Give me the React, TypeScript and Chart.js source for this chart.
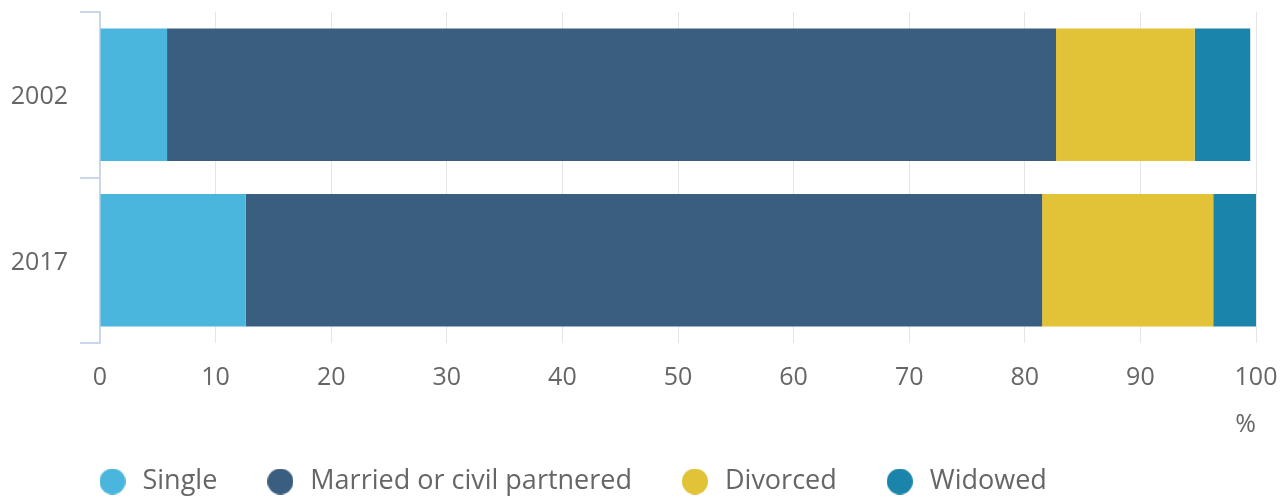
import React, { useEffect, useRef } from "react";
import { Chart, registerables } from "chart.js";

Chart.register(...registerables);

const years = ["2002", "2017"];
const seriesNames = ["Single", "Married or civil partnered", "Divorced", "Widowed"];
const single = [5.8, 12.6];
const married = [76.9, 68.9];
const divorced = [12.0, 14.8];
const widowed = [4.8, 3.7];
const seriesColors = ["#4ab5dd", "#3a5e80", "#e2c237", "#1b84aa"];
const xTicks = { min: 0, max: 100, step: 10 };
const xUnit = "%";

const TEXT = "#666666";
const FONT = "'Open Sans', sans-serif";

function makeDot(color: string): HTMLCanvasElement {
  const c = document.createElement("canvas");
  c.width = 26;
  c.height = 26;
  const g = c.getContext("2d")!;
  g.fillStyle = color;
  g.beginPath();
  g.arc(13, 13, 13, 0, Math.PI * 2);
  g.fill();
  return c;
}

const legendShift = {
  id: "legendShift",
  afterLayout(chart: any) {
    if (chart.legend) {
      chart.legend.left = 49.5;
    }
  },
};

export default function App() {
  const ref = useRef<HTMLCanvasElement | null>(null);

  useEffect(() => {
    if (!ref.current) return;
    const values = [single, married, divorced, widowed];
    const dots = seriesColors.map(makeDot);
    const chart = new Chart(ref.current, {
      type: "bar",
      data: {
        labels: years,
        datasets: seriesNames.map((name, i) => ({
          label: name,
          data: values[i],
          backgroundColor: seriesColors[i],
          borderWidth: 0,
          categoryPercentage: 0.8,
          barPercentage: 1,
        })),
      },
      options: {
        indexAxis: "y",
        responsive: false,
        animation: false,
        devicePixelRatio: 1,
        layout: { padding: { top: 12, left: 11, right: 28, bottom: 0 } },
        scales: {
          x: {
            type: "linear",
            stacked: true,
            min: xTicks.min,
            max: xTicks.max,
            z: 1,
            grid: { color: "rgba(0,0,0,0.1)", lineWidth: 1, drawTicks: false },
            border: { display: false },
            ticks: {
              stepSize: xTicks.step,
              padding: 20,
              color: TEXT,
              font: { family: FONT, size: 25 },
            },
            title: {
              display: true,
              text: xUnit,
              align: "end",
              color: TEXT,
              font: { family: FONT, size: 25 },
              padding: { top: 0, bottom: -18 },
            },
            afterFit: (s: any) => {
              s.height = 78.5;
              s.paddingLeft = 0;
              s.paddingRight = 0;
            },
          },
          y: {
            type: "category",
            stacked: true,
            offset: true,
            grid: {
              offset: true,
              drawOnChartArea: false,
              tickLength: 20,
              color: "#ccd6eb",
              lineWidth: 2,
            },
            border: { color: "#ccd6eb", width: 2 },
            ticks: {
              padding: 12,
              labelOffset: 2.5,
              color: TEXT,
              font: { family: FONT, size: 25 },
            },
            afterFit: (s: any) => {
              s.width = 89;
              s.paddingTop = 0;
              s.paddingBottom = 0;
            },
          },
        },
        plugins: {
          tooltip: { enabled: false },
          legend: {
            position: "bottom",
            align: "start",
            labels: {
              usePointStyle: true,
              pointStyleWidth: 33,
              boxHeight: 27,
              padding: 46.5,
              color: TEXT,
              font: { family: FONT, size: 27 },
              generateLabels: (c: any) => {
                const items = (Chart.defaults.plugins.legend.labels as any).generateLabels(c);
                return items.map((it: any) => ({ ...it, pointStyle: dots[it.datasetIndex] }));
              },
            },
          },
        },
      },
      plugins: [legendShift],
    } as any);
    return () => chart.destroy();
  }, []);

  return (
    <div
      style={{
        position: "fixed",
        left: 0,
        top: 0,
        width: 1284,
        height: 500,
        overflow: "hidden",
        background: "#fff",
      }}
    >
      <canvas ref={ref} width={1284} height={505} style={{ display: "block" }} />
    </div>
  );
}
